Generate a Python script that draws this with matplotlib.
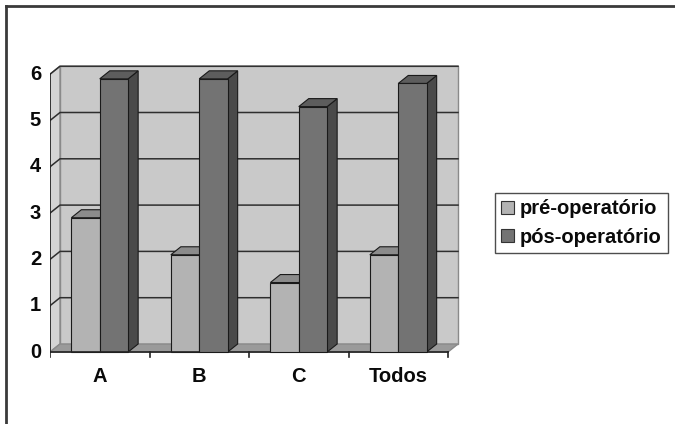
import matplotlib
matplotlib.use("Agg")
import matplotlib.pyplot as plt
from matplotlib.patches import Polygon, Patch
from matplotlib.lines import Line2D

plt.rcParams["font.family"] = ["Liberation Sans", "DejaVu Sans"]
plt.rcParams["font.weight"] = "bold"

grupos = ["A", "B", "C", "Todos"]
pre_op = [2.9, 2.1, 1.5, 2.1]
pos_op = [5.9, 5.9, 5.3, 5.8]
series = ["pré-operatório", "pós-operatório"]
yticks = [0, 1, 2, 3, 4, 5, 6]

# face colours: front, top, side
cor_pre = ("#b3b3b3", "#8b8b8b", "#7a7a7a")
cor_pos = ("#737373", "#5d5d5d", "#4a4a4a")
fs = 14.5

W, H = 675, 424
fig = plt.figure(figsize=(W / 100, H / 100), dpi=100)

# axes box in pixels (left, top, right, bottom)
px_l, px_t, px_r, px_b = 50, 62, 462, 360
ax = fig.add_axes([px_l / W, 1 - px_b / H, (px_r - px_l) / W, (px_b - px_t) / H])
ppx = 99.5   # pixels per category
ppy = 46.3   # pixels per unit
x0 = -0.5
ax.set_xlim(x0, x0 + (px_r - px_l) / ppx)
ax.set_ylim(-(px_b - 352) / ppy, (352 - px_t) / ppy)
ax.axis("off")

# depth offset of the 3d effect
dx = 10 / ppx
dy = 8 / ppy
xe = len(grupos) - 0.5
ytop = max(yticks)

# walls and floor
ax.add_patch(Polygon([(x0 + dx, dy), (xe + dx, dy), (xe + dx, ytop + dy), (x0 + dx, ytop + dy)],
                     closed=True, fc="#c9c9c9", ec="#8a8a8a", lw=1, zorder=1))
ax.add_patch(Polygon([(x0, 0), (x0 + dx, dy), (x0 + dx, ytop + dy), (x0, ytop)],
                     closed=True, fc="#d4d4d4", ec="#8a8a8a", lw=1, zorder=1))
ax.add_patch(Polygon([(x0, 0), (xe, 0), (xe + dx, dy), (x0 + dx, dy)],
                     closed=True, fc="#9a9a9a", ec="#8a8a8a", lw=1, zorder=1))

for v in yticks[1:]:
    ax.plot([x0, x0 + dx, xe + dx], [v, v + dy, v + dy], color="#2e2e2e", lw=1.1, zorder=2)

# axes lines and ticks
ax.plot([x0, x0], [0, ytop], color="#222222", lw=1.2, zorder=2)
ax.plot([x0, xe], [0, 0], color="#222222", lw=1.2, zorder=6)
tk_x = 5 / ppx
tk_y = 5 / ppy
for v in yticks:
    ax.plot([x0 - tk_x, x0], [v, v], color="#222222", lw=1.2, zorder=2)
    ax.text(x0 - 9 / ppx, v, str(v), ha="right", va="center", fontsize=fs,
            fontweight="bold", color="#0a0a0a")
for i in range(len(grupos) + 1):
    ax.plot([x0 + i, x0 + i], [0, -tk_y], color="#222222", lw=1.2, zorder=2)
for i, g in enumerate(grupos):
    ax.text(i, -24 / ppy, g, ha="center", va="center", fontsize=fs,
            fontweight="bold", color="#0a0a0a")

bw = 28.4 / ppx


def barra(xl, h, cores, z):
    front, top, side = cores
    xr = xl + bw
    ax.add_patch(Polygon([(xr, 0), (xr + dx, dy), (xr + dx, h + dy), (xr, h)],
                         closed=True, fc=side, ec="#1a1a1a", lw=0.8, zorder=z))
    ax.add_patch(Polygon([(xl, h), (xl + dx, h + dy), (xr + dx, h + dy), (xr, h)],
                         closed=True, fc=top, ec="#1a1a1a", lw=0.8, zorder=z))
    ax.bar(xl, h, width=bw, align="edge", color=front, edgecolor="#1a1a1a",
           lw=0.8, zorder=z)


for i in range(len(grupos)):
    barra(i - bw, pre_op[i], cor_pre, 3 + 2 * i)
    barra(i, pos_op[i], cor_pos, 4 + 2 * i)

handles = [Patch(fc=cor_pre[0], ec="#333333", lw=0.8),
           Patch(fc=cor_pos[0], ec="#333333", lw=0.8)]
leg = fig.legend(handles, series, loc="center left",
                 bbox_to_anchor=(495 / W, 1 - 223 / H),
                 frameon=True, fancybox=False, edgecolor="#222222",
                 prop={"size": 14.5, "weight": "bold"},
                 handlelength=0.6, handleheight=0.6, handletextpad=0.3,
                 borderpad=0.32, labelspacing=0.45, borderaxespad=0)
leg.get_frame().set_linewidth(1.0)
for t in leg.get_texts():
    t.set_color("#0a0a0a")

# outer frame (top and left edges)
fig.add_artist(Line2D([6 / W, 1], [1 - 6 / H, 1 - 6 / H], transform=fig.transFigure,
                      color="#3a3a3a", lw=2))
fig.add_artist(Line2D([6 / W, 6 / W], [0, 1 - 6 / H], transform=fig.transFigure,
                      color="#3a3a3a", lw=2))

fig.savefig("out.png", dpi=100)
